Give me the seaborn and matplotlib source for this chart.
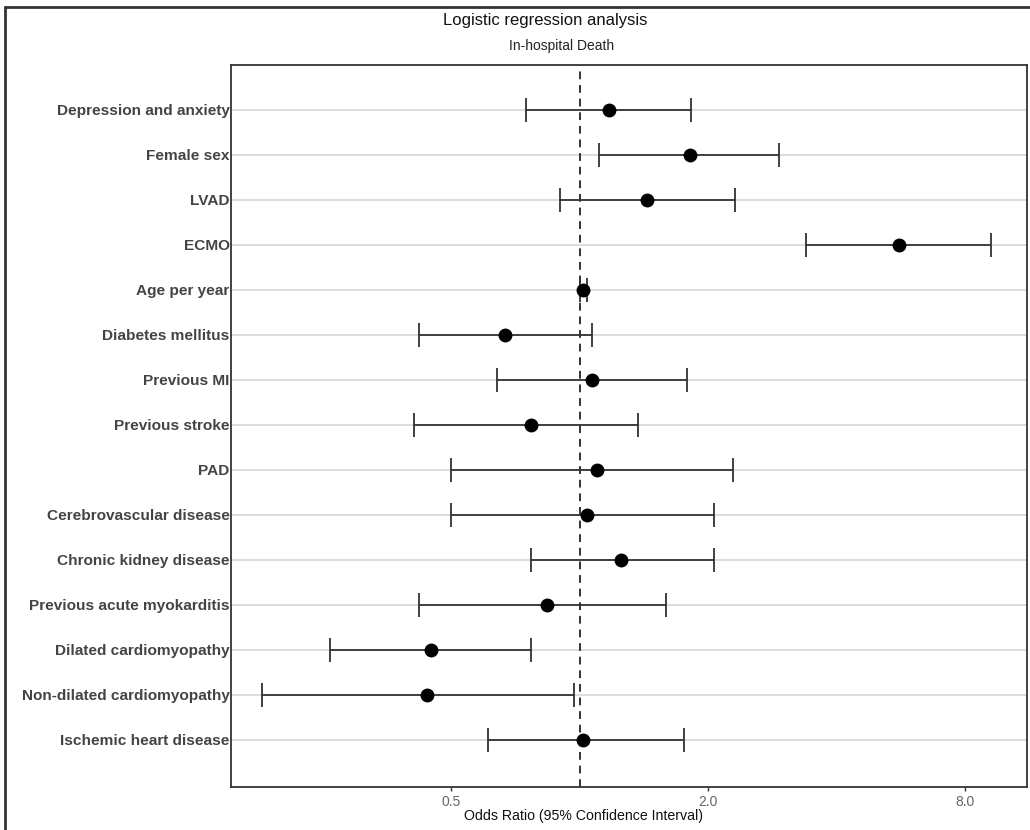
import numpy as np
import pandas as pd
import matplotlib
matplotlib.use("Agg")
import matplotlib.pyplot as plt
import seaborn as sns
from matplotlib.lines import Line2D

labels = ["Depression and anxiety", "Female sex", "LVAD", "ECMO", "Age per year",
          "Diabetes mellitus", "Previous MI", "Previous stroke", "PAD",
          "Cerebrovascular disease", "Chronic kidney disease",
          "Previous acute myokarditis", "Dilated cardiomyopathy",
          "Non-dilated cardiomyopathy", "Ischemic heart disease"]
odds = [1.17, 1.81, 1.44, 5.59, 1.02, 0.67, 1.07, 0.77, 1.10, 1.04, 1.25, 0.84, 0.45, 0.44, 1.02]
lower = [0.75, 1.11, 0.90, 3.40, 1.00, 0.42, 0.64, 0.41, 0.50, 0.50, 0.77, 0.42, 0.26, 0.18, 0.61]
upper = [1.82, 2.93, 2.31, 9.18, 1.04, 1.07, 1.79, 1.37, 2.29, 2.06, 2.06, 1.59, 0.77, 0.97, 1.76]
xticks = [0.5, 2.0, 8.0]
xtick_labels = ["0.5", "2.0", "8.0"]

sns.set_theme(style="white")
plt.rcParams['font.family'] = ['Liberation Sans', 'DejaVu Sans']

n = len(labels)
df = pd.DataFrame({"label": labels, "odds": odds, "lower": lower, "upper": upper})
df["pos"] = np.arange(n)[::-1]

fig = plt.figure(figsize=(10.3, 8.3), dpi=100)
W, H = 1030, 830
ax = fig.add_axes([231 / W, 1 - 787 / H, (1027 - 231) / W, (787 - 65) / H])

ax.set_xscale("log", base=2)
ax.set_xlim(2 ** -2.712, 2 ** 3.482)
ax.set_ylim(-1.05, n)

for p in df["pos"]:
    ax.axhline(p, color="#d9d9d9", lw=1.3, zorder=0)

ax.axvline(1.0, color="#333333", lw=1.4, ls=(0, (4, 3)), zorder=1)

xerr = np.vstack([df["odds"] - df["lower"], df["upper"] - df["odds"]])
ax.errorbar(df["odds"], df["pos"], xerr=xerr, fmt="none", ecolor="#333333",
            elinewidth=1.3, capsize=8.5, capthick=1.3, zorder=2)
sns.scatterplot(data=df, x="odds", y="pos", color="black", s=100, edgecolor="black",
                linewidth=0, ax=ax, zorder=3, legend=False)

ax.set_yticks(df["pos"])
ax.set_yticklabels(df["label"], fontsize=11.1, fontweight="bold", color="#444444")
ax.set_xticks(xticks)
ax.set_xticklabels(xtick_labels, fontsize=10, color="#666666")
ax.xaxis.set_minor_locator(matplotlib.ticker.NullLocator())
ax.tick_params(axis="x", length=3, width=1, color="#333333", pad=3, bottom=True)
ax.tick_params(axis="y", length=0, pad=1)
ax.set_ylabel("")
ax.set_xlabel("Odds Ratio (95% Confidence Interval)", fontsize=10.2, color="#111111")
ax.xaxis.set_label_coords((584 - 231) / (1027 - 231), -0.031)

for s in ax.spines.values():
    s.set_color("#333333")
    s.set_linewidth(1.3)

fig.text(545 / W, 1 - 20 / H, "Logistic regression analysis", ha="center", va="center",
         fontsize=12, color="#111111")
fig.text(562 / W, 1 - 46 / H, "In-hospital Death", ha="center", va="center",
         fontsize=10, color="#222222")

fig.add_artist(Line2D([5 / W, 5 / W], [0, 1 - 7 / H], transform=fig.transFigure,
                      color="#333333", lw=2))
fig.add_artist(Line2D([5 / W, 1], [1 - 7 / H, 1 - 7 / H], transform=fig.transFigure,
                      color="#333333", lw=2))

fig.savefig("out.png", dpi=100)
